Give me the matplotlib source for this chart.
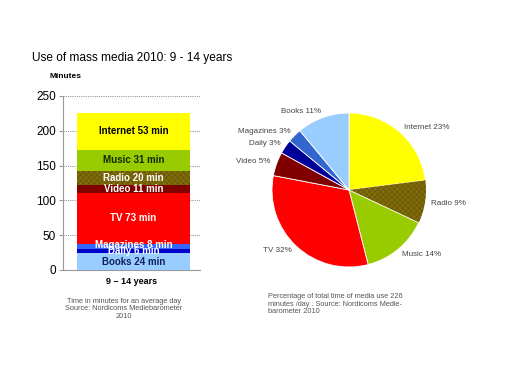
import matplotlib
matplotlib.use("Agg")
import matplotlib.pyplot as plt

plt.rcParams["font.family"] = ["Liberation Sans", "DejaVu Sans"]
plt.rcParams["hatch.linewidth"] = 0.35

# stacked bar, bottom to top
media = ["Books", "Daily", "Magazines", "TV", "Video", "Radio", "Music", "Internet"]
minutes = [24, 6, 8, 73, 11, 20, 31, 53]
bar_colors = ["#99ccff", "#0000cc", "#3366ff", "#ff0000", "#800000", "#806c0c", "#99cc00", "#ffff00"]
text_colors = ["#10205a", "white", "white", "white", "white", "white", "#102a00", "black"]
y_ticks = [0, 50, 100, 150, 200, 250]
group_label = "9 \u2013 14 years"

# pie, clockwise from the top
pie_media = ["Internet", "Radio", "Music", "TV", "Video", "Daily", "Magazines", "Books"]
pie_share = [23, 9, 14, 32, 5, 3, 3, 11]
pie_colors = ["#ffff00", "#806c0c", "#99cc00", "#ff0000", "#800000", "#000099", "#3366cc", "#99ccff"]

fig = plt.figure(figsize=(5.07, 3.72), dpi=100)
fig.patch.set_facecolor("white")

fig.text(32 / 507, 1 - 58 / 372, "Use of mass media 2010: 9 - 14 years", fontsize=8.6, va="center", ha="left")
fig.text(50 / 507, 1 - 77 / 372, "Minutes", fontsize=6, fontweight="bold", va="center", ha="left")

# ---- bar chart
ax = fig.add_axes([63 / 507, 1 - 270 / 372, 137 / 507, 174 / 372])
bottom = 0
for name, m, c, tc in zip(media, minutes, bar_colors, text_colors):
    if name == "Radio":
        ax.bar(0.515, m, width=0.825, bottom=bottom, color=c, edgecolor="#5e4e00", hatch="xxxxxx", linewidth=0, zorder=3)
    else:
        ax.bar(0.515, m, width=0.825, bottom=bottom, color=c, linewidth=0, zorder=3)
    # magazines label sits a bit high in the original
    ty = bottom + m / 2 + (1.5 if name == "Magazines" else 0)
    ax.text(0.515, ty, f"{name} {m} min", ha="center", va="center",
            fontsize=7, fontweight="bold", color=tc, zorder=4)
    bottom += m

ax.set_xlim(0, 1)
ax.set_ylim(0, 250)
ax.set_yticks(y_ticks)
ax.set_yticklabels([str(t) for t in y_ticks], fontsize=8.5)
ax.set_xticks([])
ax.grid(axis="y", color="#999999", linestyle=(0, (1, 1)), linewidth=0.8, zorder=0)
for s in ["top", "right"]:
    ax.spines[s].set_visible(False)
for s in ["left", "bottom"]:
    ax.spines[s].set_color("#999999")
ax.tick_params(axis="y", length=3, color="#999999", pad=2)
ax.set_xlabel(group_label, fontsize=6.5, fontweight="bold", labelpad=5)

fig.text(124 / 507, 1 - 309 / 372,
         "Time in minutes for an average day\nSource: Nordicoms Mediebarometer\n2010",
         fontsize=5.3, color="#555555", ha="center", va="center", linespacing=1.05)

# ---- pie chart
pax = fig.add_axes([272 / 507, 1 - 267 / 372, 154 / 507, 154 / 372])
wedges, texts = pax.pie(pie_share, colors=pie_colors, startangle=90, counterclock=False,
                        labels=[f"{n} {s}%" for n, s in zip(pie_media, pie_share)],
                        labeldistance=1.08, radius=1,
                        wedgeprops=dict(edgecolor="white", linewidth=0.6),
                        textprops=dict(fontsize=5.8, color="#444444"))
wedges[1].set_hatch("xxxxxx")
wedges[1].set_edgecolor("#5e4e00")
wedges[1].set_linewidth(0)
pax.set_xlim(-1, 1)
pax.set_ylim(-1, 1)
pax.set_aspect("equal")

fig.text(268 / 507, 1 - 304 / 372,
         "Percentage of total time of media use 226\nminutes /day . Source: Nordicoms Medie-\nbarometer 2010",
         fontsize=5.3, color="#555555", ha="left", va="center", linespacing=1.05)

fig.savefig("out.png", dpi=100, facecolor="white")
